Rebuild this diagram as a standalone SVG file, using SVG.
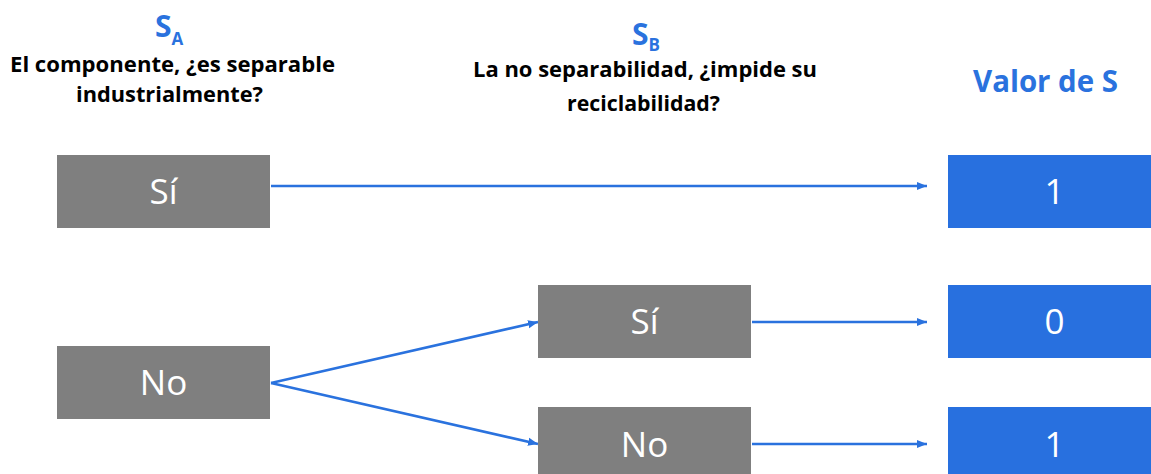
<svg xmlns="http://www.w3.org/2000/svg" width="1151" height="474" viewBox="0 0 1151 474">
  <style>
    .hdr { font-family: "Open Sans", "Liberation Sans", sans-serif; font-weight: bold; font-size: 21px; fill: #000000; }
    .sym { font-family: "Open Sans", "Liberation Sans", sans-serif; font-weight: bold; font-size: 30px; fill: #2A72DE; }
    .sub { font-size: 17px; }
    .gbox { fill: #7F7F7F; }
    .bbox { fill: #2870DF; }
    .lbl { font-family: "Open Sans", "Liberation Sans", sans-serif; font-size: 35px; fill: #FFFFFF; text-anchor: middle; }
    .conn { stroke: #2A72DE; stroke-width: 2.5; fill: none; marker-end: url(#arrow); }
  </style>
  <defs>
    <marker id="arrow" markerUnits="userSpaceOnUse" markerWidth="11" markerHeight="9" refX="10" refY="4.5" orient="auto">
      <path d="M0,0.5 L10,4.5 L0,8.5 Z" fill="#2A72DE"/>
    </marker>
  </defs>
  <rect width="1151" height="474" fill="#FFFFFF"/>

  <g id="header-sa">
    <text class="sym" x="155" y="37">S<tspan class="sub" dy="8">A</tspan></text>
    <text class="hdr" x="10" y="72" textLength="325" lengthAdjust="spacingAndGlyphs">El componente, ¿es separable</text>
    <text class="hdr" x="76" y="102" textLength="187" lengthAdjust="spacingAndGlyphs">industrialmente?</text>
  </g>
  <g id="header-sb">
    <text class="sym" x="632" y="45">S<tspan class="sub" dy="6">B</tspan></text>
    <text class="hdr" x="473" y="77" textLength="344" lengthAdjust="spacingAndGlyphs">La no separabilidad, ¿impide su</text>
    <text class="hdr" x="567" y="111" textLength="153" lengthAdjust="spacingAndGlyphs">reciclabilidad?</text>
  </g>
  <g id="header-valor">
    <text class="sym" x="973" y="92" textLength="145" lengthAdjust="spacingAndGlyphs">Valor de S</text>
  </g>

  <g id="connectors">
    <line class="conn" x1="271" y1="186" x2="927" y2="186"/>
    <line class="conn" x1="271" y1="383" x2="538" y2="322"/>
    <line class="conn" x1="271" y1="383" x2="538" y2="444"/>
    <line class="conn" x1="752" y1="322" x2="927" y2="322"/>
    <line class="conn" x1="752" y1="444" x2="927" y2="444"/>
  </g>

  <g id="sa-si">
    <rect class="gbox" x="57" y="155" width="213" height="73"/>
    <text class="lbl" x="163.5" y="204">Sí</text>
  </g>
  <g id="sa-no">
    <rect class="gbox" x="57" y="346" width="213" height="73"/>
    <text class="lbl" x="163.5" y="395">No</text>
  </g>
  <g id="sb-si">
    <rect class="gbox" x="538" y="285" width="213" height="73"/>
    <text class="lbl" x="644.5" y="334">Sí</text>
  </g>
  <g id="sb-no">
    <rect class="gbox" x="538" y="407" width="213" height="73"/>
    <text class="lbl" x="644.5" y="457">No</text>
  </g>
  <g id="val-1a">
    <rect class="bbox" x="948" y="155" width="213" height="73"/>
    <text class="lbl" x="1054.5" y="204">1</text>
  </g>
  <g id="val-0">
    <rect class="bbox" x="948" y="285" width="213" height="73"/>
    <text class="lbl" x="1054.5" y="334">0</text>
  </g>
  <g id="val-1b">
    <rect class="bbox" x="948" y="407" width="213" height="73"/>
    <text class="lbl" x="1054.5" y="457">1</text>
  </g>
</svg>
